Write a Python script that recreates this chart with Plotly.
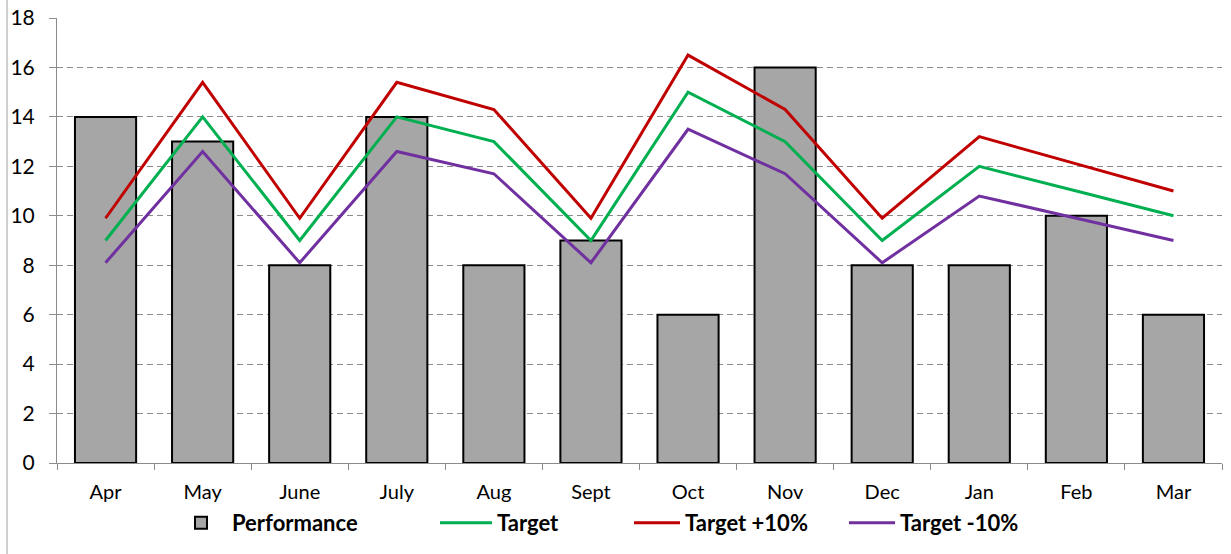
import plotly.graph_objects as go

months = ["Apr", "May", "June", "July", "Aug", "Sept", "Oct", "Nov", "Dec", "Jan", "Feb", "Mar"]
performance = [14, 13, 8, 14, 8, 9, 6, 16, 8, 8, 10, 6]
target = [9, 14, 9, 14, 13, 9, 15, 13, 9, 12, 11, 10]
target_plus = [9.9, 15.4, 9.9, 15.4, 14.3, 9.9, 16.5, 14.3, 9.9, 13.2, 12.1, 11]
target_minus = [8.1, 12.6, 8.1, 12.6, 11.7, 8.1, 13.5, 11.7, 8.1, 10.8, 9.9, 9]
y_ticks = [0, 2, 4, 6, 8, 10, 12, 14, 16, 18]

FONT = "Lato"
W, H = 1231, 554

fig = go.Figure()
fig.add_trace(go.Bar(x=months, y=performance, name="Performance", legend="legend",
                     marker=dict(color="#A6A6A6", line=dict(color="black", width=2)),
                     width=0.63))
fig.add_trace(go.Scatter(x=months, y=target, name="Target", mode="lines", legend="legend2",
                         line=dict(color="#00B050", width=3)))
fig.add_trace(go.Scatter(x=months, y=target_plus, name="Target +10%", mode="lines", legend="legend3",
                         line=dict(color="#C00000", width=3)))
fig.add_trace(go.Scatter(x=months, y=target_minus, name="Target -10%", mode="lines", legend="legend4",
                         line=dict(color="#7030A0", width=3)))

def leg(px, iw=52):
    return dict(orientation="h", xref="container", yref="container",
                x=px / W, xanchor="left", y=(H - 523) / H, yanchor="middle",
                font=dict(family=FONT, size=22, color="black", weight="bold"),
                itemwidth=iw, bgcolor="rgba(0,0,0,0)")

fig.update_layout(
    width=W, height=H,
    margin=dict(l=57, r=9, t=18, b=91),
    paper_bgcolor="white", plot_bgcolor="white",
    font=dict(family=FONT, size=20, color="black"),
    showlegend=True,
    legend=leg(170), legend2=leg(435), legend3=leg(629, 46), legend4=leg(844, 46),
    bargap=0.37,
)
fig.update_xaxes(type="category", showline=True, linecolor="#8C8C8C", linewidth=1,
                 ticks="outside", tickson="boundaries", ticklen=6, tickcolor="#8C8C8C",
                 showgrid=False, automargin=False, ticklabelstandoff=11,
                 tickfont=dict(family=FONT, size=20))
fig.update_yaxes(range=[0, 18], tickvals=y_ticks, showline=True, linecolor="#8C8C8C",
                 linewidth=1, ticks="outside", ticklen=7, tickcolor="#8C8C8C",
                 showgrid=True, gridcolor="#8C8C8C", griddash="6px,4px", gridwidth=1,
                 zeroline=False, automargin=False, ticklabelstandoff=10,
                 tickfont=dict(family=FONT, size=21))
fig.add_shape(type="line", xref="paper", yref="paper", x0=-0.0429, x1=-0.0429,
              y0=-0.3, y1=1.05, line=dict(color="#A0A0A0", width=1))

fig.write_html("out.html", config={"displayModeBar": False},
               post_script="document.body.style.margin='0';")
